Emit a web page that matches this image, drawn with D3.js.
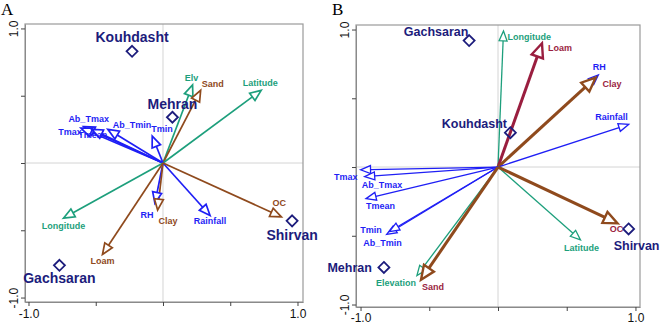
<!DOCTYPE html>
<html>
<head>
<meta charset="utf-8">
<script src="https://cdn.jsdelivr.net/npm/d3@7"></script>
<style>
  body { margin: 0; background: #fff; }
  svg { display: block; font-family: Arial, "Liberation Sans", sans-serif; }
</style>
</head>
<body>
<script>
// ---- panel A: variables (biplot scores) ----
const varsA = ["Elv", "Sand", "Latitude", "Ab_Tmax", "Tmax", "Tmean", "Ab_Tmin", "Tmin",
               "Longitude", "RH", "Clay", "Rainfall", "OC", "Loam"];
const varsAx = [0.22, 0.28, 0.73, -0.59, -0.61, -0.53, -0.41, -0.08,
                -0.74, -0.06, -0.04, 0.35, 0.88, -0.45];
const varsAy = [0.58, 0.54, 0.54, 0.27, 0.26, 0.25, 0.25, 0.20,
                -0.41, -0.30, -0.35, -0.39, -0.40, -0.68];
const varsAgroup = ["env", "soil", "env", "clim", "clim", "clim", "clim", "clim",
                    "env", "clim", "soil", "clim", "soil", "soil"];
const sitesA = ["Kouhdasht", "Mehran", "Shirvan", "Gachsaran"];
const sitesAx = [-0.23, 0.07, 0.96, -0.77];
const sitesAy = [0.83, 0.34, -0.43, -0.76];

// ---- panel B ----
const varsB = ["Longitude", "Loam", "RH", "Clay", "Rainfall", "Tmax", "Ab_Tmax", "Tmean",
               "Tmin", "Ab_Tmin", "Elevation", "Sand", "Latitude", "OC"];
const varsBx = [0.04, 0.32, 0.73, 0.71, 0.95, -1.00, -0.97, -0.96,
                -0.81, -0.79, -0.59, -0.56, 0.60, 0.87];
const varsBy = [0.99, 0.90, 0.67, 0.65, 0.31, -0.02, -0.07, -0.23,
                -0.49, -0.47, -0.79, -0.82, -0.53, -0.41];
const varsBgroup = ["env", "loam", "clim", "soil", "clim", "clim", "clim", "clim",
                    "clim", "clim", "env", "soil", "env", "soil"];
const sitesB = ["Gachsaran", "Kouhdasht", "Mehran", "Shirvan"];
const sitesBx = [-0.21, 0.09, -0.83, 0.95];
const sitesBy = [0.92, 0.25, -0.73, -0.45];

const tickVals = [-1, -0.5, 0, 0.5, 1];
const tickLabels = {"-1": "-1.0", "1": "1.0"};

// label placement (pixel offsets from tip: dx, dy, anchor)
const labA = {
  Elv: [-1, -4, "middle"], Sand: [1, -3, "start"], Latitude: [-1, -4, "middle"],
  Ab_Tmax: [5, -5, "middle"], Tmax: [-11, 7, "middle"], Tmean: [1, 9, "middle"],
  Ab_Tmin: [5, -1, "start"], Tmin: [-1, -4, "start"], Longitude: [0, 11, "middle"],
  RH: [-8, 15, "middle"], Clay: [1, 14, "start"], Rainfall: [0, 9, "middle"],
  OC: [-2, -11, "middle"], Loam: [0, 9, "middle"],
  Kouhdasht: [0, -9, "middle"], Mehran: [0, -8, "middle"],
  Shirvan: [0, 19, "middle"], Gachsaran: [0, 18, "middle"]
};
const labB = {
  Longitude: [4, 9, "start"], Loam: [6, 8, "start"], RH: [1, -5, "middle"],
  Clay: [7, 9, "start"], Rainfall: [-17, -4, "middle"], Tmax: [-3, 10, "end"],
  Ab_Tmax: [-3, 11, "start"], Tmean: [0, 10, "start"], Tmin: [-5, -1, "end"],
  Ab_Tmin: [-7, 14, "middle"], Elevation: [-21, 10, "middle"], Sand: [1, 10, "start"],
  Latitude: [1, 11, "middle"], OC: [-1, 9, "middle"],
  Gachsaran: [-33, -5, "middle"], Kouhdasht: [-36, -5, "middle"],
  Mehran: [-12, 5, "end"], Shirvan: [8, 21, "middle"]
};

const colors = {clim: "#1f1ff5", env: "#1d9f7c", soil: "#8f4a1d", loam: "#9a1e3f"};
const siteColor = "#1c1c7c";

const W = 660, H = 326;
const svg = d3.select("body").append("svg").attr("width", W).attr("height", H);

function panel(opt) {
  const x = d3.scaleLinear().domain(opt.xd).range([opt.x0, opt.x1]);
  const y = d3.scaleLinear().domain(opt.yd).range([opt.y1, opt.y0]);
  const g = svg.append("g");

  // letter
  g.append("text").attr("x", opt.x0 - 24).attr("y", 15)
    .style("font-family", "'Liberation Serif', 'Times New Roman', serif")
    .style("font-size", "17px").text(opt.letter);

  // cross lines
  g.append("line").attr("x1", x(0)).attr("x2", x(0)).attr("y1", opt.y0).attr("y2", opt.y1)
    .attr("stroke", "#d4d4d4").attr("stroke-width", 1);
  g.append("line").attr("x1", opt.x0).attr("x2", opt.x1).attr("y1", y(0)).attr("y2", y(0))
    .attr("stroke", "#d4d4d4").attr("stroke-width", 1);

  // frame
  g.append("rect").attr("x", opt.x0).attr("y", opt.y0)
    .attr("width", opt.x1 - opt.x0).attr("height", opt.y1 - opt.y0)
    .attr("fill", "none").attr("stroke", "#9a9a9a").attr("stroke-width", 1.2);

  // axes
  const ax = g.append("g").attr("transform", `translate(0,${opt.y1})`)
    .call(d3.axisBottom(x).tickValues(tickVals).tickSize(4).tickSizeOuter(0)
      .tickFormat(d => tickLabels[d] || ""));
  const ay = g.append("g").attr("transform", `translate(${opt.x0},0)`)
    .call(d3.axisLeft(y).tickValues(tickVals).tickSize(4).tickSizeOuter(0)
      .tickFormat(d => tickLabels[d] || ""));
  [ax, ay].forEach(a => {
    a.select(".domain").attr("stroke", "#8a8a8a");
    a.selectAll(".tick line").attr("stroke", "#444");
    a.selectAll(".tick text").attr("fill", "#111").style("font-size", "12px")
      .style("font-family", "Arial, 'Liberation Sans', sans-serif");
  });
  ax.selectAll(".tick text").attr("y", opt.xLabY).attr("dy", "0");
  ay.selectAll(".tick text").attr("transform", "rotate(-90)")
    .attr("x", 0).attr("y", -7).attr("text-anchor", "middle").attr("dy", "0em");

  // arrows
  const data = opt.names.map((n, i) => ({name: n, vx: opt.vx[i], vy: opt.vy[i], grp: opt.grp[i]}));
  const ox = x(0), oy = y(0);
  data.forEach(d => {
    const tx = x(d.vx), ty = y(d.vy);
    const thick = opt.thick && (d.grp === "soil" || d.grp === "loam");
    const L = thick ? 14 : opt.hl, hw = thick ? 6 : opt.hw;
    const ang = Math.atan2(ty - oy, tx - ox);
    const bx = tx - L * Math.cos(ang), by = ty - L * Math.sin(ang);
    const px = -Math.sin(ang), py = Math.cos(ang);
    d.tx = tx; d.ty = ty;
    d.line = [ox, oy, bx, by];
    d.head = [[tx, ty], [bx + hw * px, by + hw * py], [bx - hw * px, by - hw * py]];
    d.sw = thick ? 3 : opt.lw;
    d.hsw = thick ? 2.4 : opt.lw;
  });

  const ag = g.append("g");
  ag.selectAll("line").data(data).join("line")
    .attr("x1", d => d.line[0]).attr("y1", d => d.line[1])
    .attr("x2", d => d.line[2]).attr("y2", d => d.line[3])
    .attr("stroke", d => colors[d.grp]).attr("stroke-width", d => d.sw);
  ag.selectAll("path").data(data).join("path")
    .attr("d", d => "M" + d.head.map(p => p.join(",")).join("L") + "Z")
    .attr("fill", "#fff").attr("stroke", d => colors[d.grp])
    .attr("stroke-width", d => d.hsw).attr("stroke-linejoin", "miter");

  g.append("g").selectAll("text").data(data).join("text")
    .attr("x", d => d.tx + opt.lab[d.name][0])
    .attr("y", d => d.ty + opt.lab[d.name][1])
    .attr("text-anchor", d => opt.lab[d.name][2])
    .attr("fill", d => (opt.thick && (d.grp === "soil" || d.grp === "loam")) ? colors.loam : colors[d.grp])
    .style("font-size", "9px").style("font-weight", "bold")
    .text(d => d.name);

  // sites
  const sd = opt.sites.map((n, i) => ({name: n, sx: x(opt.sx[i]), sy: y(opt.sy[i])}));
  const r = 5.5;
  g.append("g").selectAll("path").data(sd).join("path")
    .attr("d", d => `M${d.sx},${d.sy - r}L${d.sx + r},${d.sy}L${d.sx},${d.sy + r}L${d.sx - r},${d.sy}Z`)
    .attr("fill", "none").attr("stroke", siteColor).attr("stroke-width", 1.8);
  g.append("g").selectAll("text").data(sd).join("text")
    .attr("x", d => d.sx + opt.lab[d.name][0])
    .attr("y", d => d.sy + opt.lab[d.name][1])
    .attr("text-anchor", d => opt.lab[d.name][2])
    .attr("fill", siteColor)
    .style("font-size", opt.siteFs).style("font-weight", "bold")
    .text(d => d.name);
}

panel({
  letter: "A", x0: 25, x1: 303, y0: 24, y1: 302,
  xd: [-1.026, 1.041], yd: [-1.033, 1.033],
  names: varsA, vx: varsAx, vy: varsAy, grp: varsAgroup,
  sites: sitesA, sx: sitesAx, sy: sitesAy, lab: labA,
  thick: false, lw: 1.7, hl: 11, hw: 4.5, siteFs: "14px", xLabY: 16
});

panel({
  letter: "B", x0: 356, x1: 640, y0: 25, y1: 307,
  xd: [-1.033, 1.033], yd: [-1.018, 1.033],
  names: varsB, vx: varsBx, vy: varsBy, grp: varsBgroup,
  sites: sitesB, sx: sitesBx, sy: sitesBy, lab: labB,
  thick: true, lw: 1.3, hl: 10, hw: 4, siteFs: "12.5px", xLabY: 15
});
</script>
</body>
</html>
